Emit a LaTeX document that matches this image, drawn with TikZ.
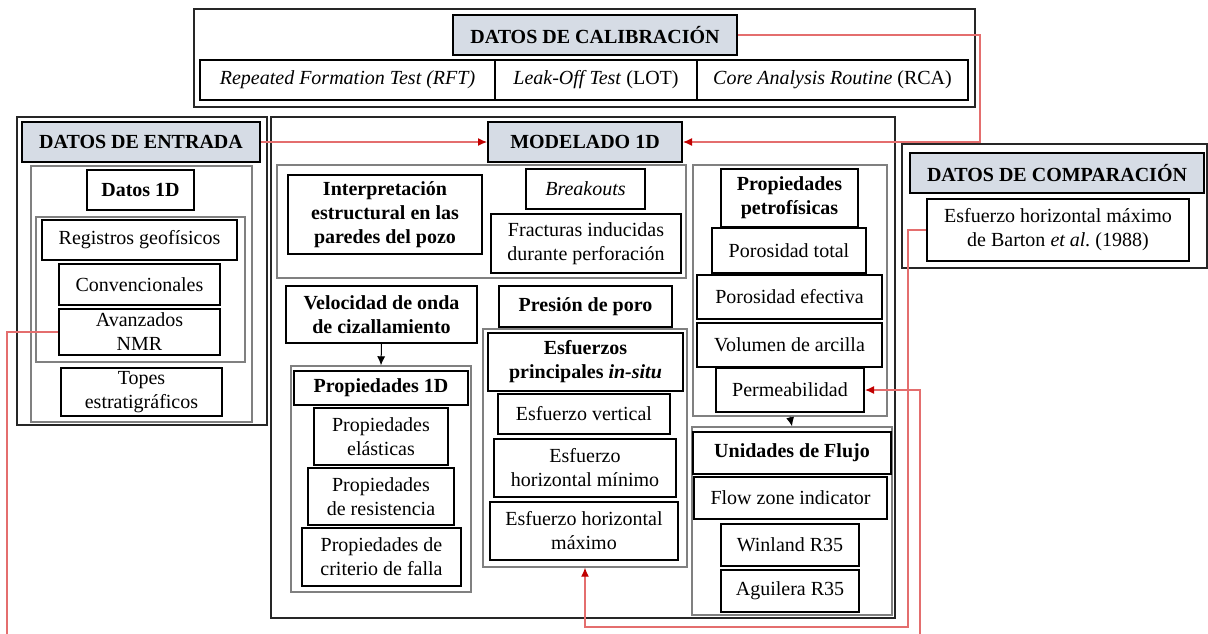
\documentclass[tikz,border=0pt]{standalone}
\usepackage{fontspec}
\setmainfont{Liberation Serif}
\usepackage{tikz}
\usetikzlibrary{positioning,arrows.meta,calc}
\definecolor{titlefill}{RGB}{214,220,229}
\definecolor{linkcolor}{RGB}{228,110,110}
\definecolor{tipcolor}{RGB}{192,0,0}
\tikzset{
    panel box/.style={rectangle, draw=black!85, line width=2.4pt, inner sep=0pt},
    group box/.style={rectangle, draw=black!50, line width=1.4pt, inner sep=0pt},
    data box/.style={rectangle, draw, line width=2pt, fill=white, align=center, inner sep=0pt, font=\fontsize{20}{24}\selectfont},
    bold box/.style={data box, font=\fontsize{20}{24}\selectfont\bfseries},
    title box/.style={bold box, fill=titlefill},
    red link/.style={draw=linkcolor, line width=1.2pt, -{Latex[length=9pt,width=8pt,color=tipcolor]}},
    flow arrow/.style={line width=1pt, -{Latex[length=9pt,width=8pt]}}
}

\begin{document}
\begin{tikzpicture}[x=1pt, y=-1pt]
\useasboundingbox (0,0) rectangle (1208,633);
\clip (0,0) rectangle (1208,633);

% panels
\node[panel box, minimum width=781pt, minimum height=98pt] (calpanel) at (584.5,58) {};
\node[panel box, minimum width=250pt, minimum height=308pt] (entpanel) at (142,271) {};
\node[panel box, minimum width=624pt, minimum height=501pt] (modpanel) at (583,367.5) {};
\node[panel box, minimum width=305pt, minimum height=124pt] (companel) at (1054.5,206) {};

% groups
\node[group box, minimum width=221pt, minimum height=256pt] (datosgroup) at (141.5,294) {};
\node[group box, minimum width=209pt, minimum height=145pt] (reggroup) at (140.5,289.5) {};
\node[group box, minimum width=409pt, minimum height=113pt] (interpgroup) at (481.5,221.5) {};
\node[group box, minimum width=204pt, minimum height=238pt] (esfgroup) at (585,448) {};
\node[group box, minimum width=180pt, minimum height=226pt] (propgroup) at (381,479) {};
\node[group box, minimum width=194pt, minimum height=251pt] (petrogroup) at (790,290.5) {};
\node[group box, minimum width=200pt, minimum height=188pt] (flujogroup) at (792,521) {};

% calibracion
\node[title box, minimum width=284pt, minimum height=40pt] (calib) at (595,35) {DATOS DE CALIBRACIÓN};
\node[data box, minimum width=295pt, minimum height=40pt] (rft) at (347.5,80) {\textit{Repeated Formation Test (RFT)}};
\node[data box, minimum width=202pt, minimum height=40pt] (lot) at (596,80) {\textit{Leak-Off Test} (LOT)};
\node[data box, minimum width=271pt, minimum height=40pt] (rca) at (832.5,80) {\textit{Core Analysis Routine} (RCA)};

% entrada
\node[title box, minimum width=238pt, minimum height=40pt] (entrada) at (141,142) {DATOS DE ENTRADA};
\node[bold box, minimum width=107pt, minimum height=40pt] (datos1d) at (140.5,190) {Datos 1D};
\node[data box, minimum width=195pt, minimum height=40pt] (registros) at (139.5,240) {Registros geofísicos};
\node[data box, minimum width=161pt, minimum height=41pt] (conv) at (139.5,284.5) {Convencionales};
\node[data box, minimum width=161pt, minimum height=46pt] (avanz) at (139.5,332) {Avanzados\\NMR};
\node[data box, minimum width=161pt, minimum height=48pt] (topes) at (141.5,392) {Topes\\estratigráficos};

% modelado
\node[title box, minimum width=194pt, minimum height=40pt] (modelado) at (585,142) {MODELADO 1D};
\node[bold box, minimum width=194pt, minimum height=79pt] (interp) at (385,214.5) {Interpretación\\estructural en las\\paredes del pozo};
\node[data box, minimum width=119pt, minimum height=40pt] (breakouts) at (585.5,189) {\textit{Breakouts}};
\node[data box, minimum width=190pt, minimum height=59pt] (fracturas) at (586,243.5) {Fracturas inducidas\\durante perforación};
\node[bold box, minimum width=191pt, minimum height=57pt] (velocidad) at (381.5,314.5) {Velocidad de onda\\de cizallamiento};
\node[bold box, minimum width=173pt, minimum height=41pt] (presion) at (585.5,306.5) {Presión de poro};
\node[bold box, minimum width=195pt, minimum height=58pt] (esfprin) at (585.5,362) {Esfuerzos\\principales \textit{in-situ}};
\node[data box, minimum width=172pt, minimum height=40pt] (esfvert) at (584,414) {Esfuerzo vertical};
\node[data box, minimum width=182pt, minimum height=58pt] (esfmin) at (585,468) {Esfuerzo\\horizontal mínimo};
\node[data box, minimum width=188pt, minimum height=58pt] (esfmax) at (584,531) {Esfuerzo horizontal\\máximo};
\node[bold box, minimum width=174pt, minimum height=34pt] (prop1d) at (381,388) {Propiedades 1D};
\node[data box, minimum width=134pt, minimum height=57pt] (elast) at (381,436.5) {Propiedades\\elásticas};
\node[data box, minimum width=146pt, minimum height=57pt] (resist) at (381,496.5) {Propiedades\\de resistencia};
\node[data box, minimum width=159pt, minimum height=58pt] (falla) at (381.5,557) {Propiedades de\\criterio de falla};
\node[bold box, minimum width=137pt, minimum height=58pt] (petro) at (789.5,198) {Propiedades\\petrofísicas};
\node[data box, minimum width=154pt, minimum height=45pt] (portot) at (789,250.5) {Porosidad total};
\node[data box, minimum width=185pt, minimum height=44pt] (porefe) at (789.5,297) {Porosidad efectiva};
\node[data box, minimum width=185pt, minimum height=44pt] (vol) at (789.5,345) {Volumen de arcilla};
\node[data box, minimum width=148pt, minimum height=44pt] (perm) at (790,390) {Permeabilidad};
\node[bold box, minimum width=198pt, minimum height=42pt] (flujo) at (792,453) {Unidades de Flujo};
\node[data box, minimum width=193pt, minimum height=42pt] (fzi) at (790.5,498) {Flow zone indicator};
\node[data box, minimum width=138pt, minimum height=42pt] (winland) at (790,545) {Winland R35};
\node[data box, minimum width=138pt, minimum height=42pt] (aguilera) at (790,591) {Aguilera R35};

% comparacion
\node[title box, minimum width=294pt, minimum height=40pt] (comp) at (1057,173) {DATOS DE COMPARACIÓN};
\node[data box, minimum width=262pt, minimum height=62pt] (barton) at (1058,230) {Esfuerzo horizontal máximo\\de Barton \textit{et al.}\ (1988)};

% bends of the red links
\coordinate (calbend) at (980,142);
\coordinate (loopL) at (7,648);
\coordinate (loopR) at (920,648);
\coordinate (bartonbend) at (908,627);

\draw[red link] (calib.east) -| (calbend) -- (modelado.east);
\draw[red link] (entrada.east) -- (modelado.west);
\draw[red link] (avanz.west) -| (loopL) -- (loopR) |- (perm.east);
\draw[red link] (barton.west) -| (bartonbend) -| (esfgroup.south);

\draw[flow arrow] (velocidad.south) -- (propgroup.north);
\draw[flow arrow] (petrogroup.south) -- (flujogroup.north);
\end{tikzpicture}
\end{document}
